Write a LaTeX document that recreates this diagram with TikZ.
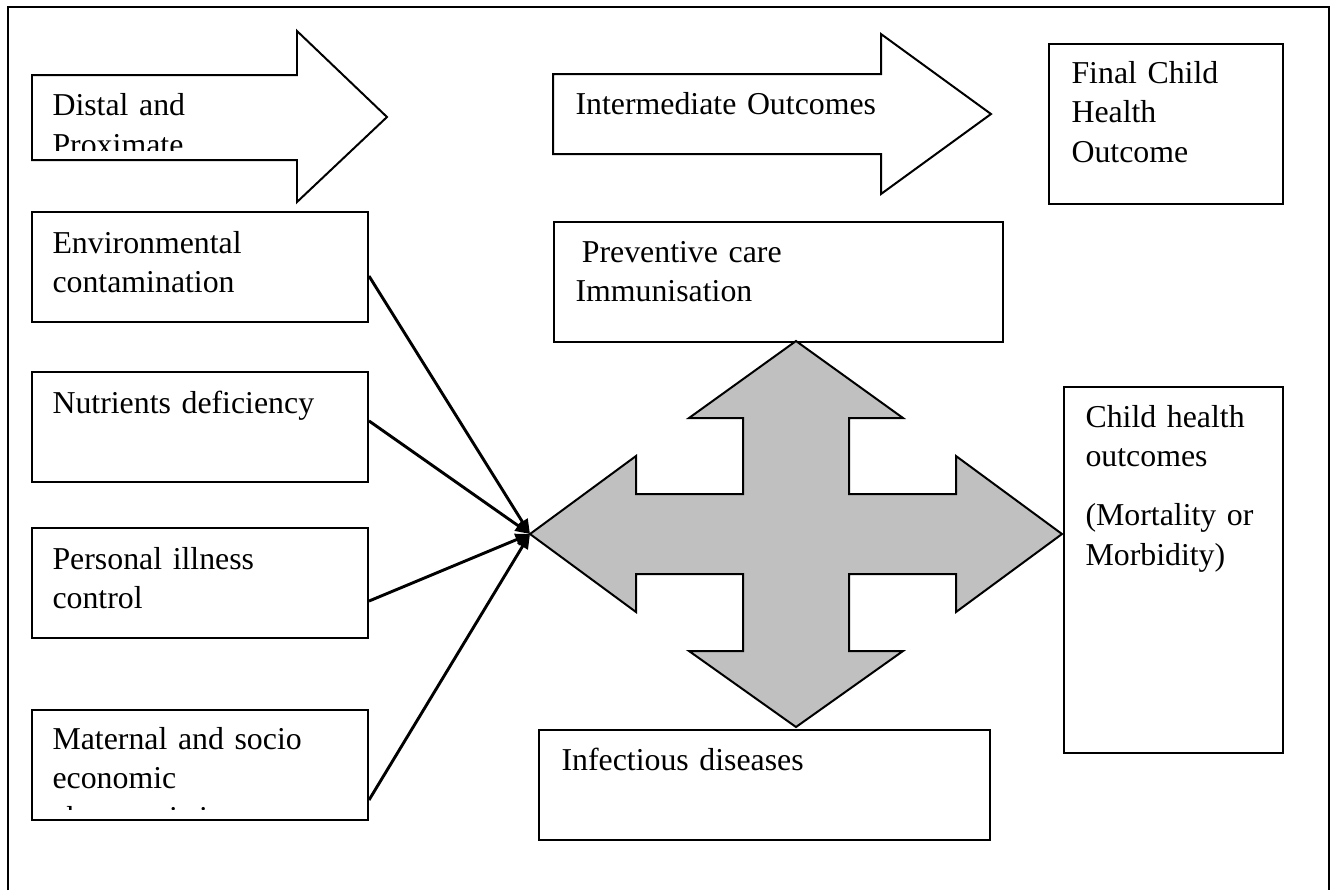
\documentclass[tikz,border=0pt]{standalone}
\usepackage{fontspec}
\setmainfont{Liberation Serif}
\usetikzlibrary{arrows.meta}
\newlength{\unitpx}
\setlength{\unitpx}{0.377pt}
\definecolor{crossgray}{RGB}{192,192,192}
\tikzset{
  box/.style={draw, line width=0.75pt, inner sep=0pt},
  sidebox/.style={box, minimum width=336\unitpx, minimum height=110\unitpx},
  txt/.style={anchor=base west, inner sep=0pt, align=left, text width=450\unitpx,
    font=\fontsize{12}{14.9}\selectfont},
  blockarrow/.style={draw, line width=0.75pt, line join=miter},
  link/.style={->, line width=1.1pt},
}
\begin{document}
\begin{tikzpicture}[x=0.377pt, y=-0.377pt, >={Triangle[length=5.5pt,width=4.5pt]}]
                \useasboundingbox (0,0) rectangle (1336,890);
                % outer frame, open at the bottom
                \draw[line width=0.75pt] (8,890) -- (8,7) -- (1329,7) -- (1329,890);

                % block arrows on top
                \draw[blockarrow] (32,75) -- (297,75) -- (297,31) -- (387,117)
                    -- (297,202) -- (297,160) -- (32,160) -- cycle;
                \draw[blockarrow] (553,74) -- (881,74) -- (881,34) -- (991,114)
                    -- (881,194) -- (881,154) -- (553,154) -- cycle;
                \begin{scope}
                    \clip (40,80) rectangle (296,150.7);
                    \node[txt] (distal) at (52,115.5) {Distal and\\Proximate};
                \end{scope}
                \node[txt] (inter) at (575,114) {Intermediate Outcomes};

                % boxes
                \node[box, minimum width=234\unitpx, minimum height=160\unitpx] (final) at (1166,124) {};
                \node[txt] (finaltxt) at (1071,83) {Final Child\\Health\\Outcome};

                \node[sidebox] (env) at (200,267) {};
                \node[txt] (envtxt) at (52,253) {Environmental\\contamination};
                \node[sidebox] (nutr) at (200,427) {};
                \node[txt] (nutrtxt) at (52,413) {Nutrients deficiency};
                \node[sidebox] (pers) at (200,583) {};
                \node[txt] (perstxt) at (52,569) {Personal illness\\control};
                \node[sidebox] (mat) at (200,765) {};
                \begin{scope}
                    \clip (33,711) rectangle (367,809);
                    \node[txt] (mattxt) at (52,749) {Maternal and socio\\economic\\characteristics};
                \end{scope}

                \node[box, minimum width=449\unitpx, minimum height=120\unitpx] (prev) at (778.5,282) {};
                \node[txt] (prevtxt) at (575,262) {\hspace*{0.2em}Preventive care\\Immunisation};
                \node[box, minimum width=451\unitpx, minimum height=110\unitpx] (infec) at (764.5,785) {};
                \node[txt] (infectxt) at (561,770) {Infectious diseases};
                \node[box, minimum width=219\unitpx, minimum height=366\unitpx] (child) at (1173.5,570) {};
                \node[txt] (childtxt) at (1085,427) {Child health\\outcomes\\[7.4pt](Mortality or\\Morbidity)};

                % four-way arrow
                \draw[blockarrow, fill=crossgray] (796,341) -- (903,418) -- (849,418) -- (849,494)
                    -- (956,494) -- (956,456) -- (1062,534) -- (956,612) -- (956,574)
                    -- (849,574) -- (849,651) -- (903,651) -- (796,727) -- (689,651)
                    -- (743,651) -- (743,574) -- (636,574) -- (636,612) -- (530,534)
                    -- (636,456) -- (636,494) -- (743,494) -- (743,418) -- (689,418) -- cycle;
                \coordinate (hub) at (530,534);

                \draw[link] ([yshift=-3.4pt]env.east) -- (hub);
                \draw[link] ([yshift=2.3pt]nutr.east) -- (hub);
                \draw[link] ([yshift=-6.8pt]pers.east) -- (hub);
                \draw[link] ([yshift=-13.2pt]mat.east) -- (hub);
\end{tikzpicture}
\end{document}
